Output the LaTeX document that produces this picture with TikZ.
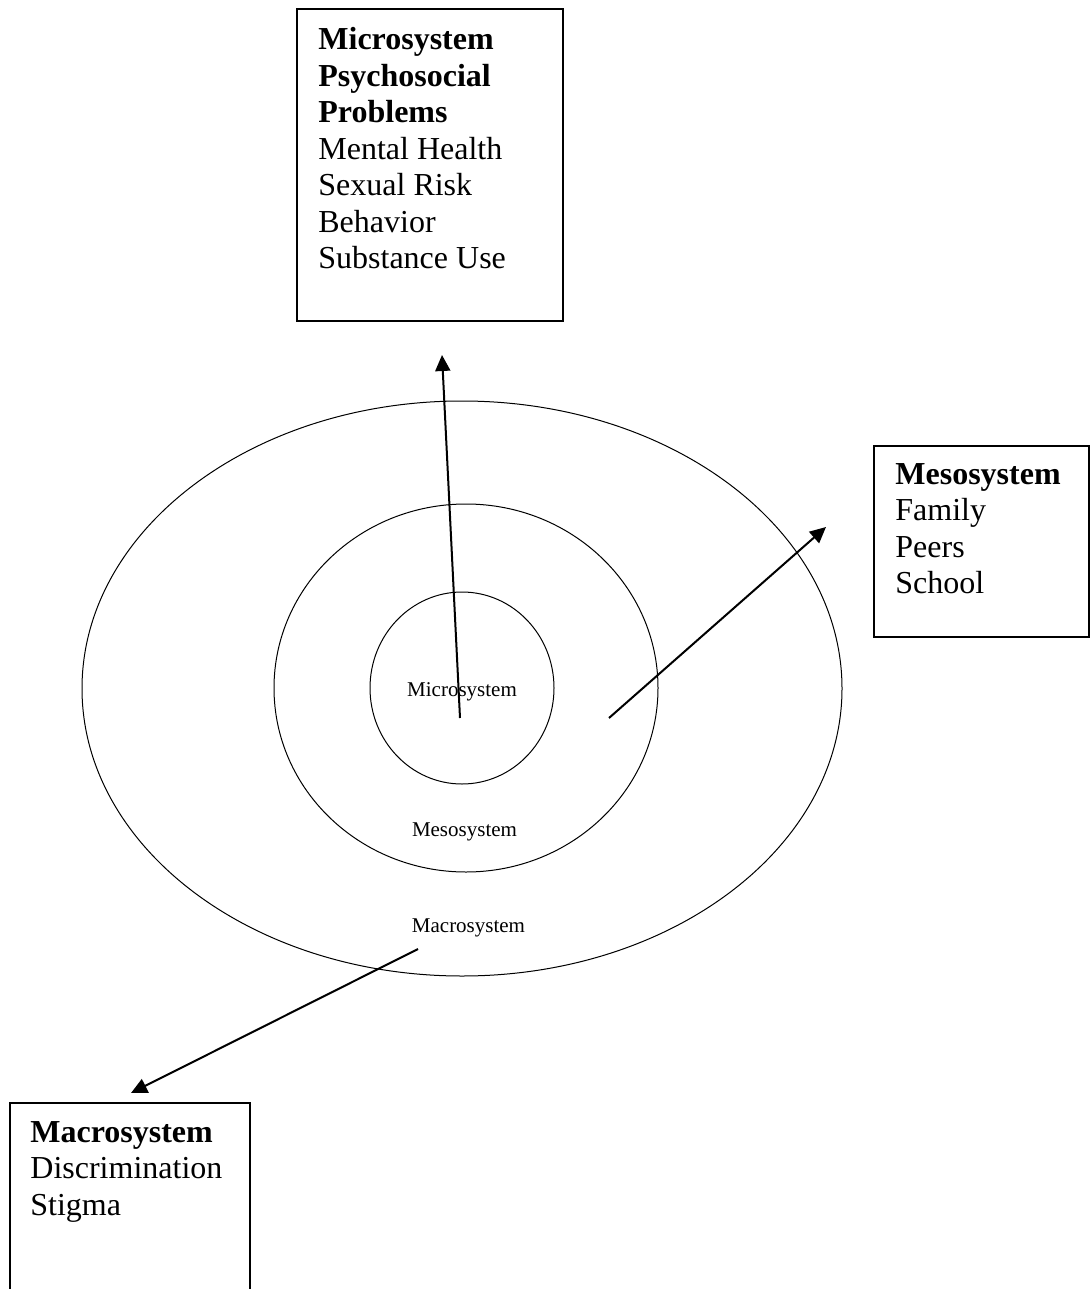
\documentclass[tikz,border=0pt]{standalone}
\usepackage{fontspec}
\setmainfont{Liberation Serif}
\usetikzlibrary{arrows.meta}

\tikzset{
  sysbox/.style={draw,line width=1pt,inner sep=0pt,outer sep=0pt},
  boxtext/.style={anchor=north west,align=left,inner sep=0pt,font=\fontsize{16}{18.25}\selectfont},
  ringlabel/.style={anchor=base,inner sep=0pt,font=\fontsize{10.5}{12}\selectfont},
  ring/.style={line width=0.5pt},
  link/.style={line width=1pt,-{Triangle[width=7.5pt,length=8pt]}}
}

\begin{document}
\begin{tikzpicture}[x=0.5pt,y=-0.5pt]
\useasboundingbox (0,0) rectangle (1090,1289);
\draw[ring] (462,688.5) ellipse [x radius=380,y radius=287.5];
\draw[ring] (466,688) ellipse [x radius=192,y radius=184];
\draw[ring] (462,688) ellipse [x radius=92,y radius=96];
\node[ringlabel] (microlabel) at (462,696) {Microsystem};
\node[ringlabel] (mesolabel) at (464.5,836) {Mesosystem};
\node[ringlabel] (macrolabel) at (468.5,932) {Macrosystem};

\node[sysbox,minimum width=133pt,minimum height=156pt] (microbox) at (430,165) {};
\node[boxtext] (microtext) at ([shift={(21,18)}]microbox.north west)
  {\textbf{Microsystem}\\\textbf{Psychosocial}\\\textbf{Problems}\\Mental Health\\Sexual Risk\\Behavior\\Substance Use};
\node[sysbox,minimum width=107.5pt,minimum height=95.5pt] (mesobox) at (981.5,541.5) {};
\node[boxtext] (mesotext) at ([shift={(21,17)}]mesobox.north west)
  {\textbf{Mesosystem}\\Family\\Peers\\School};
\node[sysbox,minimum width=120pt,minimum height=98.5pt] (macrobox) at (130,1201.5) {};
\node[boxtext] (macrotext) at ([shift={(20,18)}]macrobox.north west)
  {\textbf{Macrosystem}\\Discrimination\\Stigma};

\coordinate (microstart) at (460,718);
\coordinate (microend) at (442,355);
\coordinate (mesostart) at (609,718);
\coordinate (mesoend) at (826,527);
\coordinate (macrostart) at (418,949);
\coordinate (macroend) at (131,1093);
\draw[link] (microstart) -- (microend);
\draw[link] (mesostart) -- (mesoend);
\draw[link] (macrostart) -- (macroend);
\end{tikzpicture}
\end{document}
